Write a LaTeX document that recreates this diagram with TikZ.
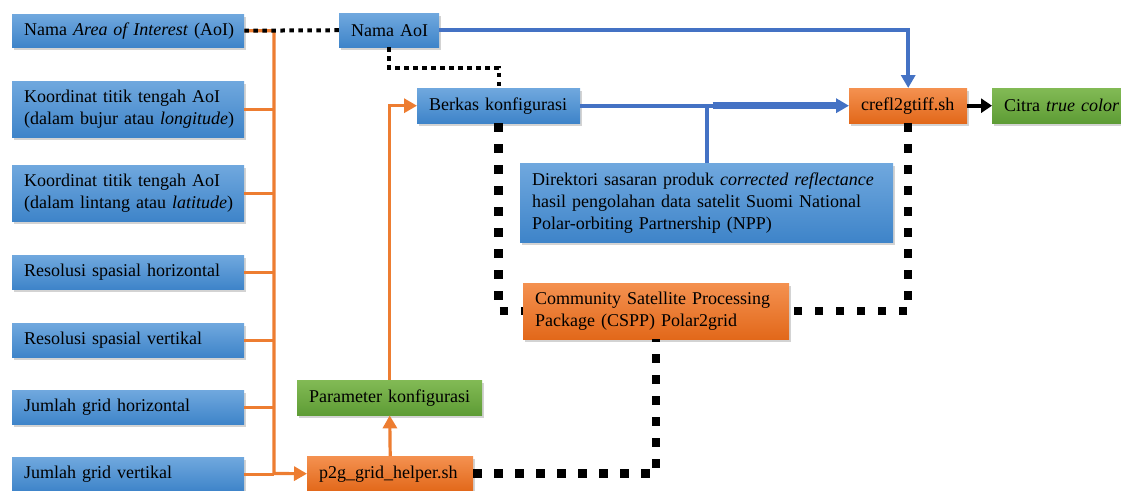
\documentclass[tikz,border=0pt]{standalone}
\usepackage{fontspec}
\setmainfont{Liberation Serif}
\usetikzlibrary{shadows,arrows.meta,calc}
\definecolor{bleuh}{RGB}{112,168,222}
\definecolor{bleub}{RGB}{62,132,201}
\definecolor{ocreh}{RGB}{244,145,80}
\definecolor{ocreb}{RGB}{226,104,26}
\definecolor{verth}{RGB}{130,186,85}
\definecolor{vertb}{RGB}{94,156,53}
\definecolor{ocre}{RGB}{237,125,49}
\definecolor{bleutrait}{RGB}{68,114,196}

\begin{document}
\begin{tikzpicture}[x=1pt,y=-1pt,
boite/.style={anchor=north west,inner xsep=12pt,inner ysep=2pt,font=\fontsize{18}{22}\selectfont,
  execute at begin node={\rightskip=0pt plus 1fil minus 40pt\relax},
  drop shadow={shadow xshift=2pt,shadow yshift=-3pt,opacity=0.35}},
boite bleu/.style={boite,top color=bleuh,bottom color=bleub},
boite ocre/.style={boite,top color=ocreh,bottom color=ocreb},
boite verte/.style={boite,top color=verth,bottom color=vertb},
lien ocre/.style={ocre,line width=3.2pt},
lien bleu/.style={bleutrait,line width=3.6pt},
pointille fin/.style={line width=4pt,dash pattern=on 4.5pt off 4.5pt},
pointille gros/.style={line width=8.5pt,dash pattern=on 8.5pt off 12.5pt},
pointe/.style={-{Triangle[length=13pt,width=14pt]}}]
\useasboundingbox (0,0) rectangle (1121,490);
\clip (0,0) rectangle (1121,490);

\node[boite bleu,text width=208pt,minimum height=33pt] (nom) at (12,14) {Nama \textit{Area of Interest} (AoI)};
\node[boite bleu,text width=208pt,minimum height=56pt] (lon) at (12,81) {Koordinat titik tengah AoI\\(dalam bujur atau \textit{longitude})};
\node[boite bleu,text width=208pt,minimum height=56pt] (lat) at (12,165) {Koordinat titik tengah AoI\\(dalam lintang atau \textit{latitude})};
\node[boite bleu,text width=208pt,minimum height=34pt] (resh) at (12,255) {Resolusi spasial horizontal};
\node[boite bleu,text width=208pt,minimum height=34pt] (resv) at (12,323) {Resolusi spasial vertikal};
\node[boite bleu,text width=208pt,minimum height=34pt] (grih) at (12,390) {Jumlah grid horizontal};
\node[boite bleu,text width=208pt,minimum height=34pt] (griv) at (12,457) {Jumlah grid vertikal};

\node[boite bleu,text width=76pt,minimum height=34pt] (aoi) at (339,13) {Nama AoI};
\node[boite bleu,text width=139pt,minimum height=35pt] (berkas) at (417,88) {Berkas konfigurasi};
\node[boite ocre,text width=94pt,minimum height=35pt] (crefl) at (849,88) {crefl2gtiff.sh};
\node[boite verte,text width=130pt,minimum height=35pt] (citra) at (992,88) {Citra \textit{true color}};
\node[boite bleu,text width=349pt,minimum height=79pt] (direk) at (520,163) {Direktori sasaran produk \textit{corrected reflectance}\\hasil pengolahan data satelit Suomi National\\Polar-orbiting Partnership (NPP)};
\node[boite ocre,text width=242pt,minimum height=56pt] (cspp) at (523,283) {Community Satellite Processing\\Package (CSPP) Polar2grid};
\node[boite verte,text width=161pt,minimum height=35pt] (param) at (297,380) {Parameter konfigurasi};
\node[boite ocre,text width=142pt,minimum height=35pt] (p2g) at (307,456) {p2g\_grid\_helper.sh};

\coordinate (bus) at (274,473.5);
\draw[lien ocre,pointe] (nom.east) -| (bus) -- (p2g.west);
\foreach \n in {lon,lat,resh,resv,grih,griv}
  \draw[lien ocre] (\n.east) -- (\n.east -| bus);
\draw[lien ocre,pointe] (p2g.north) -- (param.south);
\draw[lien ocre,pointe] (param.north) |- (berkas.west);

\draw[pointille fin] (nom.east) -- (aoi.west);
\draw[pointille fin] (aoi.south) -- ++(0,21) -| (berkas.north);

\draw[lien bleu,pointe] (aoi.east) -| (crefl.north);
\draw[lien bleu,pointe] (berkas.east) -- (crefl.west);
\draw[lien bleu] (direk.north) -- (direk.north |- berkas.east);
\draw[bleutrait,line width=6.5pt] ($(direk.north |- berkas.east)+(6,0)$) -- ($(crefl.west)+(-12,0)$);
\draw[line width=4pt,-{Triangle[length=11pt,width=14pt]}] (crefl.east) -- (citra.west);

\draw[pointille gros] (berkas.south) |- (cspp.west);
\draw[pointille gros] (crefl.south) |- (cspp.east);
\draw[pointille gros] (p2g.east) -| (cspp.south);

\end{tikzpicture}
\end{document}
